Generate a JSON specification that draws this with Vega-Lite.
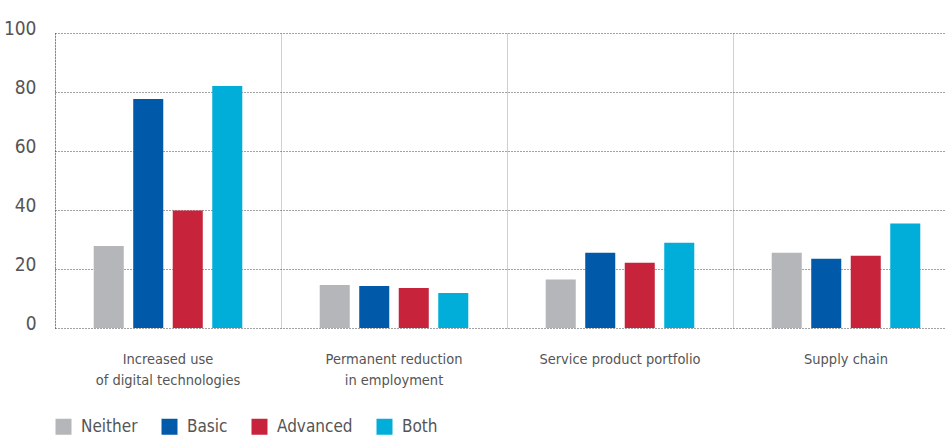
{
  "$schema": "https://vega.github.io/schema/vega-lite/v6.json",
  "autosize": {"type": "none"},
  "padding": {"left": 55, "top": 33, "right": 0, "bottom": 108},
  "width": 891,
  "height": 295,
  "background": "white",
  "data": {
    "values": [
      {"category": "Increased use of digital technologies", "group": "Neither", "value": 27.8},
      {"category": "Increased use of digital technologies", "group": "Basic", "value": 77.6},
      {"category": "Increased use of digital technologies", "group": "Advanced", "value": 39.8},
      {"category": "Increased use of digital technologies", "group": "Both", "value": 82.0},
      {"category": "Permanent reduction in employment", "group": "Neither", "value": 14.6},
      {"category": "Permanent reduction in employment", "group": "Basic", "value": 14.2},
      {"category": "Permanent reduction in employment", "group": "Advanced", "value": 13.6},
      {"category": "Permanent reduction in employment", "group": "Both", "value": 11.9},
      {"category": "Service product portfolio", "group": "Neither", "value": 16.4},
      {"category": "Service product portfolio", "group": "Basic", "value": 25.5},
      {"category": "Service product portfolio", "group": "Advanced", "value": 22.1},
      {"category": "Service product portfolio", "group": "Both", "value": 28.9},
      {"category": "Supply chain", "group": "Neither", "value": 25.5},
      {"category": "Supply chain", "group": "Basic", "value": 23.5},
      {"category": "Supply chain", "group": "Advanced", "value": 24.5},
      {"category": "Supply chain", "group": "Both", "value": 35.4}
    ]
  },
  "mark": {"type": "bar"},
  "encoding": {
    "x": {
      "field": "category",
      "type": "nominal",
      "sort": null,
      "scale": {"range": [0, 904], "paddingInner": 0, "paddingOuter": 0},
      "axis": {
        "title": null,
        "orient": "bottom",
        "labelAngle": 0,
        "domain": false,
        "ticks": false,
        "grid": true,
        "bandPosition": 0,
        "gridColor": "#a0a0a0",
        "gridDash": [1, 1],
        "gridWidth": 1,
        "labelFont": "'DejaVu Sans Condensed', 'Liberation Sans', sans-serif",
        "labelFontSize": 14.5,
        "labelColor": "#555555",
        "labelBaseline": "top",
        "labelPadding": 24,
        "labelLineHeight": 21,
        "labelExpr": "datum.value == 'Increased use of digital technologies' ? ['Increased use', 'of digital technologies'] : datum.value == 'Permanent reduction in employment' ? ['Permanent reduction', 'in employment'] : datum.value"
      }
    },
    "xOffset": {
      "field": "group",
      "type": "nominal",
      "sort": ["Neither", "Basic", "Advanced", "Both"],
      "scale": {"paddingInner": 0.24, "paddingOuter": 0.98}
    },
    "y": {
      "field": "value",
      "type": "quantitative",
      "scale": {"domain": [0, 100], "nice": false},
      "axis": {
        "title": null,
        "values": [0, 20, 40, 60, 80, 100],
        "domain": true,
        "domainColor": "#444444",
        "domainDash": [1, 2],
        "ticks": false,
        "grid": true,
        "gridColor": "#444444",
        "gridDash": [1, 2],
        "gridWidth": 1,
        "labelFont": "'DejaVu Sans Condensed', 'Liberation Sans', sans-serif",
        "labelFontSize": 19,
        "labelColor": "#555555",
        "labelPadding": 19,
        "labelBaseline": "alphabetic",
        "labelOffset": 1
      }
    },
    "color": {
      "field": "group",
      "type": "nominal",
      "scale": {
        "domain": ["Neither", "Basic", "Advanced", "Both"],
        "range": ["#b5b6b9", "#005aa9", "#c7233b", "#00aed9"]
      },
      "legend": {
        "title": null,
        "orient": "none",
        "direction": "horizontal",
        "legendX": 0,
        "legendY": 385,
        "symbolType": "square",
        "symbolSize": 256,
        "symbolStrokeWidth": 0,
        "symbolOpacity": 1,
        "labelFont": "'DejaVu Sans Condensed', 'Liberation Sans', sans-serif",
        "labelFontSize": 17,
        "labelColor": "#555555",
        "labelOffset": 9,
        "columnPadding": 23,
        "padding": 0
      }
    }
  },
  "config": {
    "view": {"stroke": null}
  }
}
